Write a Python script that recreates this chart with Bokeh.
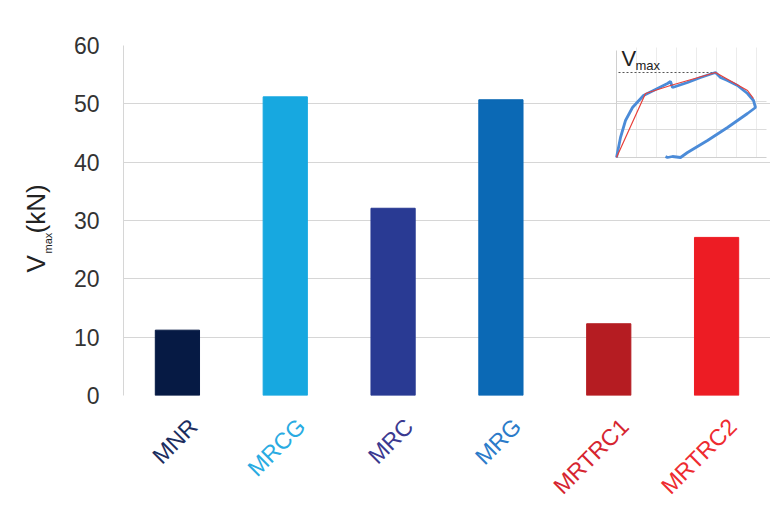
import math
from bokeh.plotting import figure
from bokeh.layouts import row, column
from bokeh.models import ColumnDataSource, Label, Range1d, FixedTicker
from bokeh.core.properties import value
from bokeh.embed import file_html
from bokeh.resources import INLINE

# ---- data ----
categories = ["MNR", "MRCG", "MRC", "MRG", "MRTRC1", "MRTRC2"]
vmax_kn = [11.2, 51.2, 32.1, 50.7, 12.3, 27.1]
bar_colors = ["#061a44", "#17a8e0", "#293a93", "#0b69b5", "#b51c22", "#ed1c24"]
label_colors = ["#1c2d5e", "#29abe2", "#3b3990", "#2b7bc9", "#d62530", "#ee2b2f"]
y_ticks = [0, 10, 20, 30, 40, 50, 60]

# inset: load-displacement envelope (arbitrary units)
inset_blue_x = [0, 4, 9, 16, 27, 37, 51, 54, 56, 71, 84, 99, 104, 111, 121, 131, 137, 139, 131, 111, 91, 71, 64, 56, 51, 49]
inset_blue_y = [0, 20, 37, 50, 62, 67, 74, 76, 70, 75, 80, 85, 80, 77, 72, 64, 57, 50, 44, 30, 17, 5, 0, 1, 0, 1]
inset_red_x = [0, 29, 54, 99, 131, 137]
inset_red_y = [0, 64, 72, 85, 67, 59]
inset_vmax = 85
inset_xgrid = [20, 40, 60, 80, 100, 120, 140]
inset_ygrid = [28, 56]

FONT = "Liberation Sans"
LEFT_W = 62
MAIN_W = 708
MAIN_H = 412
STRIP_H = 96
xpos = [i + 0.5 for i in range(len(categories))]
xr = Range1d(0, len(categories))

# ---- main chart ----
p = figure(x_range=xr, y_range=Range1d(0, 60), width=MAIN_W, height=MAIN_H,
           output_backend="svg", toolbar_location=None,
           min_border_left=61, min_border_right=0, min_border_top=45,
           min_border_bottom=MAIN_H - 45 - 350)
p.outline_line_color = None
p.xaxis.visible = False

src = ColumnDataSource(dict(x=xpos, v=vmax_kn, color=bar_colors))
p.vbar(x="x", top="v", width=0.41, color="color", source=src)

p.xgrid.grid_line_color = None
p.ygrid.grid_line_color = "#d6d6d6"
p.yaxis.ticker = FixedTicker(ticks=y_ticks)
p.yaxis.major_tick_line_color = None
p.yaxis.minor_tick_line_color = None
p.yaxis.axis_line_color = "#d6d6d6"
p.yaxis.major_label_text_font = FONT
p.yaxis.major_label_text_font_size = "23px"
p.yaxis.major_label_text_color = "#333333"
p.yaxis.major_label_standoff = 18

# inset in its own ranges
frame_w = MAIN_W - 61
p.extra_x_ranges = {"ix": Range1d(-493, frame_w - 493)}
p.extra_y_ranges = {"iy": Range1d(-238, 112)}
kw = dict(x_range_name="ix", y_range_name="iy")
for gx in inset_xgrid:
    p.line([gx, gx], [0, 110], line_color="#ececec", line_width=1, **kw)
for gy in inset_ygrid:
    p.line([0, 150], [gy, gy], line_color="#dcdcdc", line_width=1, **kw)
p.line([0, 150], [0, 0], line_color="#d0d0d0", line_width=1, **kw)
p.line([0, 0], [0, 107], line_color="#d0d0d0", line_width=1, **kw)
p.line([2, inset_red_x[3]], [inset_vmax, inset_vmax], line_color="#555555",
       line_width=1, line_dash="2 2", **kw)
p.line(inset_blue_x, inset_blue_y, line_color="#4b8bd8", line_width=2.8, **kw)
p.line(inset_red_x, inset_red_y, line_color="#e8403a", line_width=1.2, **kw)
p.add_layout(Label(x=5, y=inset_vmax + 2, text="V", text_font=FONT, text_font_size="22px",
                   text_color="#222222", text_baseline="bottom", **kw))
p.add_layout(Label(x=19, y=inset_vmax, text="max", text_font=FONT, text_font_size="13px",
                   text_color="#222222", text_baseline="bottom", **kw))

# ---- category labels strip below ----
pb = figure(x_range=xr, y_range=Range1d(0, STRIP_H), width=MAIN_W, height=STRIP_H,
            output_backend="svg", toolbar_location=None,
            min_border_left=61, min_border_right=0, min_border_top=0, min_border_bottom=0)
pb.axis.visible = False
pb.grid.grid_line_color = None
pb.outline_line_color = None
lab_src = ColumnDataSource(dict(x=xpos, text=categories, color=label_colors))
pb.text(x="x", y=STRIP_H - (422 - MAIN_H), text="text", source=lab_src, angle=math.pi / 4,
        text_align="right", text_baseline="middle", x_offset=16,
        text_color="color", text_font=value(FONT), text_font_size="23px")

# ---- y-axis title strip on the left ----
TOTAL_H = MAIN_H + STRIP_H
pl = figure(x_range=Range1d(0, LEFT_W), y_range=Range1d(0, TOTAL_H), width=LEFT_W, height=TOTAL_H,
            output_backend="svg", toolbar_location=None,
            min_border_left=0, min_border_right=0, min_border_top=0, min_border_bottom=0)
pl.axis.visible = False
pl.grid.grid_line_color = None
pl.outline_line_color = None
pl.text(x=[50], y=[TOTAL_H - 272], text=["V"], angle=math.pi / 2, text_baseline="bottom",
        text_font=value(FONT), text_font_size="26px", text_color="#222222")
pl.text(x=[53], y=[TOTAL_H - 253], text=["max"], angle=math.pi / 2, text_baseline="bottom",
        text_font=value(FONT), text_font_size="11px", text_color="#222222")
pl.text(x=[50], y=[TOTAL_H - 233], text=["(kN)"], angle=math.pi / 2, text_baseline="bottom",
        text_font=value(FONT), text_font_size="26px", text_color="#222222")

layout = row(pl, column(p, pb))
open("out.html", "w").write(file_html(layout, INLINE))
